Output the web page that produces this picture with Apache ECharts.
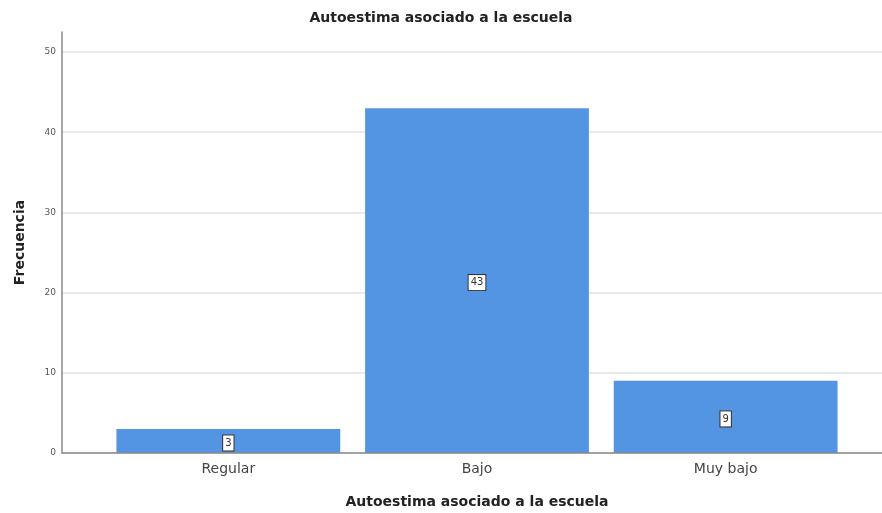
<!DOCTYPE html>
<html>
<head>
<meta charset="utf-8">
<script src="https://cdn.jsdelivr.net/npm/echarts@6/dist/echarts.min.js"></script>
<style>html,body{margin:0;padding:0;background:#fff;}#c{width:882px;height:513px;}</style>
</head>
<body>
<div id="c"></div>
<script>
var categories = ['Regular', 'Bajo', 'Muy bajo'];
var frecuencia = [3, 43, 9];
var yTicks = [0, 10, 20, 30, 40, 50];

var FONT = '"DejaVu Sans", sans-serif';
var chart = echarts.init(document.getElementById('c'));
chart.setOption({
  animation: false,
  title: {
    text: 'Autoestima asociado a la escuela',
    left: 'center', top: 6,
    textStyle: {fontFamily: FONT, fontSize: 14, fontWeight: 'bold', color: '#222'}
  },
  grid: [
    {left: 62, right: 0, top: 32, bottom: 60, outerBoundsMode: 'none', containLabel: false},
    {left: 104, right: 32, top: 32, bottom: 60, outerBoundsMode: 'none', containLabel: false}
  ],
  xAxis: [
    {type: 'value', gridIndex: 0, min: 0, max: 1, z: 5,
     axisLine: {show: true, onZero: false, lineStyle: {color: '#8a8a8a', width: 1.5}},
     axisTick: {show: false}, axisLabel: {show: false}, splitLine: {show: false}},
    {type: 'category', gridIndex: 1, data: categories,
     axisLine: {show: false}, axisTick: {show: false},
     axisLabel: {fontFamily: FONT, fontSize: 14, color: '#444', margin: 9},
     name: 'Autoestima asociado a la escuela', nameLocation: 'middle', nameGap: 42,
     nameTextStyle: {fontFamily: FONT, fontSize: 14, fontWeight: 'bold', color: '#222'}}
  ],
  yAxis: [
    {type: 'value', gridIndex: 0, min: 0, max: 52.5, interval: 10,
     axisLine: {show: true, lineStyle: {color: '#8a8a8a', width: 1.5}},
     axisTick: {show: false},
     axisLabel: {fontFamily: FONT, fontSize: 9, color: '#555', margin: 6, showMaxLabel: false,
       formatter: function (v) { return yTicks.indexOf(v) >= 0 ? String(v) : ''; }},
     splitLine: {show: true, showMaxLine: false, lineStyle: {color: '#e2e2e2', width: 1.5}},
     name: 'Frecuencia', nameLocation: 'middle', nameGap: 35,
     nameTextStyle: {fontFamily: FONT, fontSize: 14, fontWeight: 'bold', color: '#222'}},
    {type: 'value', gridIndex: 1, min: 0, max: 52.5, show: false, splitLine: {show: false}}
  ],
  series: [{
    type: 'bar', xAxisIndex: 1, yAxisIndex: 1,
    data: frecuencia,
    barCategoryGap: '10%',
    itemStyle: {color: '#5495e3'},
    label: {
      show: true, position: 'inside', offset: [0, 2],
      fontFamily: FONT, fontSize: 10, color: '#333',
      backgroundColor: '#fff', borderColor: '#333', borderWidth: 1,
      padding: [3, 2, 2, 2]
    }
  }]
});
</script>
</body>
</html>
